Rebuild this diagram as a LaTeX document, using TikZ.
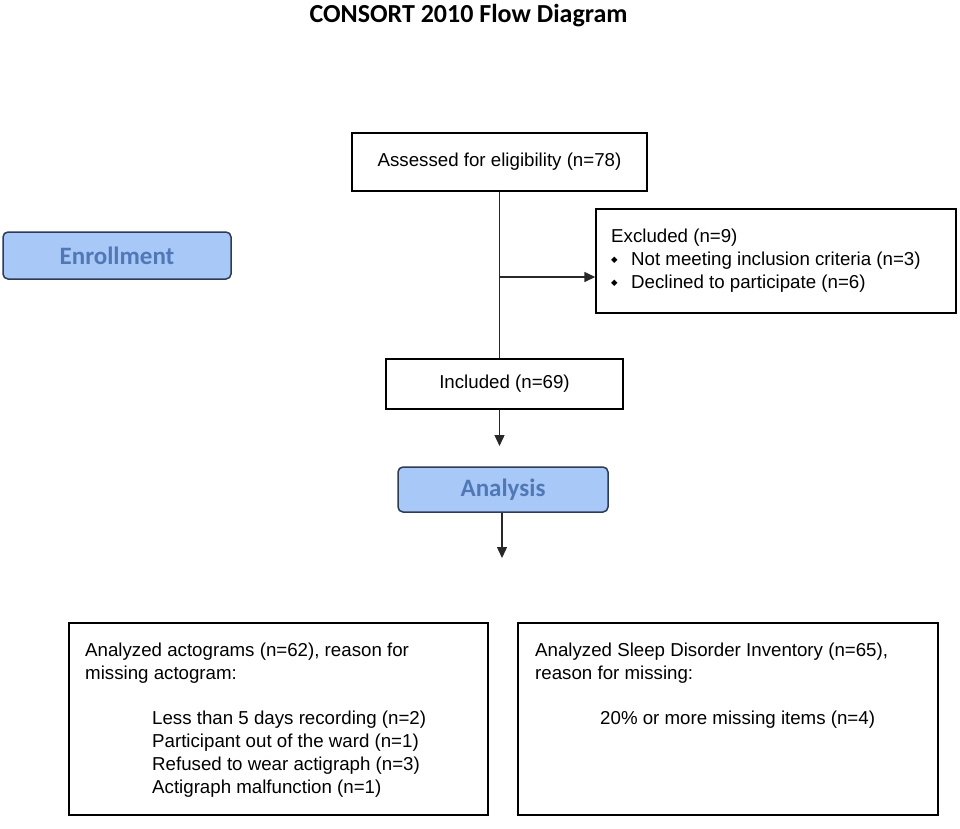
\documentclass[tikz,border=0pt]{standalone}
\usepackage{fontspec}
\setmainfont{Liberation Sans}
\newfontfamily\calfont{Carlito}
\newfontfamily\djfont{DejaVu Sans}
\usetikzlibrary{arrows.meta}
\definecolor{phasefill}{RGB}{168,200,247}
\definecolor{phasetext}{RGB}{80,120,182}
\definecolor{phaseline}{RGB}{46,59,85}
\definecolor{connline}{RGB}{40,40,40}
\tikzset{
  box/.style={draw=black, line width=1.4pt, rectangle, inner sep=0pt},
  phase/.style={draw=phaseline, fill=phasefill, rounded corners=5pt, line width=1.5pt,
    text=phasetext, font=\calfont\bfseries\fontsize{25}{28}\selectfont, inner sep=0pt},
  boxtext/.style={font=\fontsize{18.7}{22}\selectfont, inner sep=0pt},
  txt/.style={boxtext, anchor=base west},
  conn/.style={draw=connline, line width=1.4pt},
  arr/.style={conn, -{Triangle[length=11pt,width=10pt]}},
}
\newcommand{\mybul}{\makebox[20pt][l]{\raisebox{2.5pt}{\djfont\fontsize{8.5}{8.5}\selectfont ◆}}}
\begin{document}
\begin{tikzpicture}[x=1pt,y=-1pt]
\useasboundingbox (0,0) rectangle (960,828);
\node[font=\calfont\bfseries\fontsize{26}{30}\selectfont, anchor=base, inner sep=0pt] (title) at (468.5,22) {CONSORT 2010 Flow Diagram};
\node[box, boxtext, minimum width=295pt, minimum height=58pt] (assessed) at (499.5,162) {Assessed for eligibility (n=78)};
\node[box, minimum width=360pt, minimum height=104pt] (excluded) at (776,261) {};
\node[txt] (exh) at (611,242) {Excluded (n=9)};
\node[txt] (ex1) at (611,265) {\mybul Not meeting inclusion criteria (n=3)};
\node[txt] (ex2) at (611,288) {\mybul Declined to participate (n=6)};
\node[phase, minimum width=228pt, minimum height=47pt] (enroll) at (117,255.5) {Enrollment};
\node[box, boxtext, minimum width=237pt, minimum height=50pt] (included) at (504.5,384) {Included (n=69)};
\node[phase, minimum width=210pt, minimum height=45pt] (analysis) at (503,489.5) {Analysis};
\node[box, minimum width=419pt, minimum height=192pt] (bl) at (278.5,719) {};
\node[box, minimum width=420pt, minimum height=192pt] (br) at (728,719) {};
\node[txt] (bl1) at (85,656) {Analyzed actograms (n=62), reason for};
\node[txt] (bl2) at (85,679) {missing actogram:};
\node[txt] (bl3) at (152,724) {Less than 5 days recording (n=2)};
\node[txt] (bl4) at (152,747) {Participant out of the ward (n=1)};
\node[txt] (bl5) at (152,770) {Refused to wear actigraph (n=3)};
\node[txt] (bl6) at (152,793) {Actigraph malfunction (n=1)};
\node[txt] (br1) at (535,656) {Analyzed Sleep Disorder Inventory (n=65),};
\node[txt] (br2) at (535,679) {reason for missing:};
\node[txt] (br3) at (600,724) {20\% or more missing items (n=4)};
\coordinate (branch) at (499.5,277);
\coordinate (inend) at (499.5,446);
\coordinate (anend) at (502,558);
\draw[conn] (assessed.south) -- (assessed.south |- included.north);
\draw[arr] (branch) -- (branch -| excluded.west);
\draw[arr] (included.south -| inend) -- (inend);
\draw[arr] (analysis.south -| anend) -- (anend);
\end{tikzpicture}
\end{document}
